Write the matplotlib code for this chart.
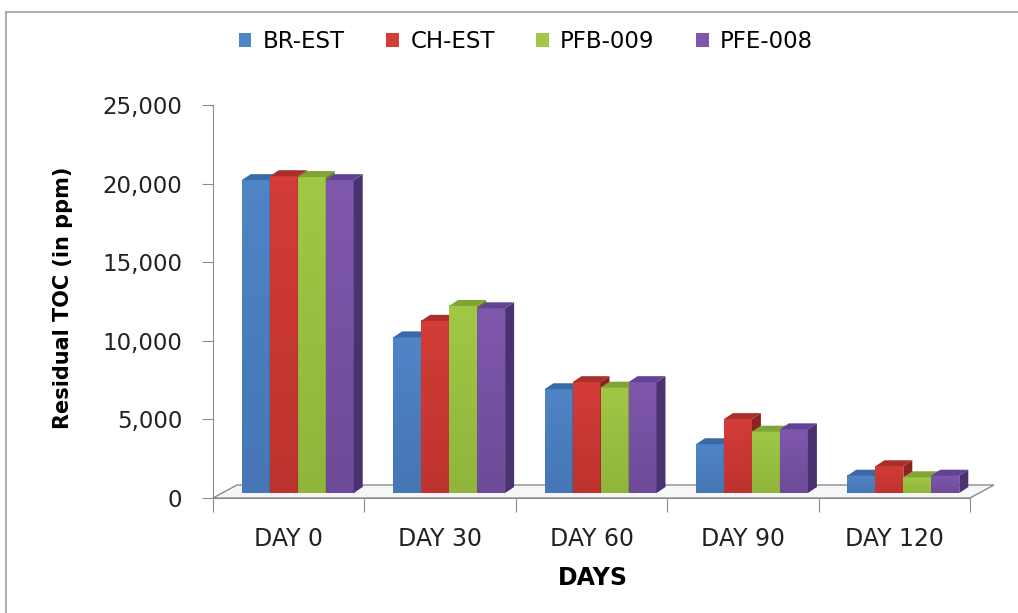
import numpy as np
import matplotlib as mpl
mpl.use('Agg')
import matplotlib.pyplot as plt
from matplotlib.patches import Polygon, Rectangle
from matplotlib.colors import LinearSegmentedColormap
from matplotlib.ticker import FuncFormatter

# residual TOC per sample (ppm)
days = ['DAY 0', 'DAY 30', 'DAY 60', 'DAY 90', 'DAY 120']
samples = ['BR-EST', 'CH-EST', 'PFB-009', 'PFE-008']
br_est = [19900, 9900, 6600, 3100, 1100]
ch_est = [20150, 10950, 7050, 4700, 1700]
pfb_009 = [20100, 11900, 6700, 3900, 1000]
pfe_008 = [19900, 11750, 7050, 4050, 1100]
series = [br_est, ch_est, pfb_009, pfe_008]

# (front top, front bottom, top face, side face)
shades = [('#4F84C6', '#4676B5', '#3A6AA5', '#2E5588'),
          ('#D33C38', '#BE332F', '#AC2E2A', '#8A2220'),
          ('#A0C845', '#8FB53B', '#80A535', '#667F2A'),
          ('#7F57AC', '#6E4B98', '#634391', '#4A3170')]

W, H = 1018, 613
fig = plt.figure(figsize=(W/100, H/100), dpi=100)
ax = fig.add_axes([213/W, (H-498)/H, 757/W, 393/H])
ax.set_xlim(0, 5)
ax.set_ylim(0, 25000)

px_x = 5/757.0       # x units per pixel
px_y = 25000/393.0   # y units per pixel

# floor slab
fdx, fdy = 24*px_x, 13*px_y
floor = Polygon([(0, 0), (5, 0), (5+fdx, fdy), (fdx, fdy)], closed=True,
                facecolor='#F6F6F6', edgecolor='#8C8C8C', lw=1.0,
                clip_on=False, zorder=1)
ax.add_patch(floor)

bw = 28*px_x
shift = 9*px_x
base = 5*px_y
ddx, ddy = 9*px_x, 6*px_y

z = 2
for i in range(len(days)):
    left = i + 0.5 + shift - 2*bw
    for j, vals in enumerate(series):
        v = vals[i]
        x0 = left + j*bw
        x1 = x0 + bw
        top, bot, ctop, cside = shades[j]
        cmap = LinearSegmentedColormap.from_list('g', [bot, top])
        grad = np.linspace(0, 1, 64).reshape(-1, 1)
        ax.imshow(grad, cmap=cmap, origin='lower', aspect='auto',
                  extent=(x0, x1, base, base+v), interpolation='bilinear',
                  zorder=z, clip_on=False)
        ax.add_patch(Polygon([(x1, base), (x1+ddx, base+ddy), (x1+ddx, base+v+ddy), (x1, base+v)],
                             closed=True, facecolor=cside, edgecolor='none', zorder=z, clip_on=False))
        ax.add_patch(Polygon([(x0, base+v), (x1, base+v), (x1+ddx, base+v+ddy), (x0+ddx, base+v+ddy)],
                             closed=True, facecolor=ctop, edgecolor='none', zorder=z, clip_on=False))
        z += 1

for s in ['top', 'right']:
    ax.spines[s].set_visible(False)
for s in ['left', 'bottom']:
    ax.spines[s].set_color('#8C8C8C')
    ax.spines[s].set_zorder(0.5)

ax.set_yticks(np.arange(0, 25001, 5000))
ax.yaxis.set_major_formatter(FuncFormatter(lambda v, p: '{:,.0f}'.format(v)))
ax.tick_params(axis='y', length=8, color='#8C8C8C', pad=14, labelsize=16.5, labelcolor='#222222')

ax.set_xticks(np.arange(0, 6))
ax.set_xticklabels([])
ax.set_xticks(np.arange(len(days)) + 0.5, minor=True)
ax.set_xticklabels(days, minor=True)
ax.tick_params(axis='x', which='major', length=10, color='#8C8C8C')
ax.tick_params(axis='x', which='minor', length=0, pad=21, labelsize=17, labelcolor='#222222')

ax.set_ylabel('Residual TOC (in ppm)', fontsize=15, fontweight='bold')
ax.yaxis.set_label_coords(-0.185, 0.51)
fig.text(593/W, 1-578/H, 'DAYS', fontsize=17, fontweight='bold', ha='center', va='center')

handles = [Rectangle((0, 0), 1, 1, facecolor=shades[j][0]) for j in range(4)]
fig.legend(handles, samples, loc='center', bbox_to_anchor=(526/W, 1-42/H), ncol=4,
           frameon=False, fontsize=16.5, handlelength=0.55, handleheight=0.55,
           handletextpad=0.5, columnspacing=1.8)

# chart area border
fig.add_artist(plt.Line2D([6/W, 6/W], [0, 1-12/H], color='#A0A0A0', lw=1.2))
fig.add_artist(plt.Line2D([6/W, 1], [1-12/H, 1-12/H], color='#A0A0A0', lw=1.2))

fig.savefig('out.png', dpi=100)
